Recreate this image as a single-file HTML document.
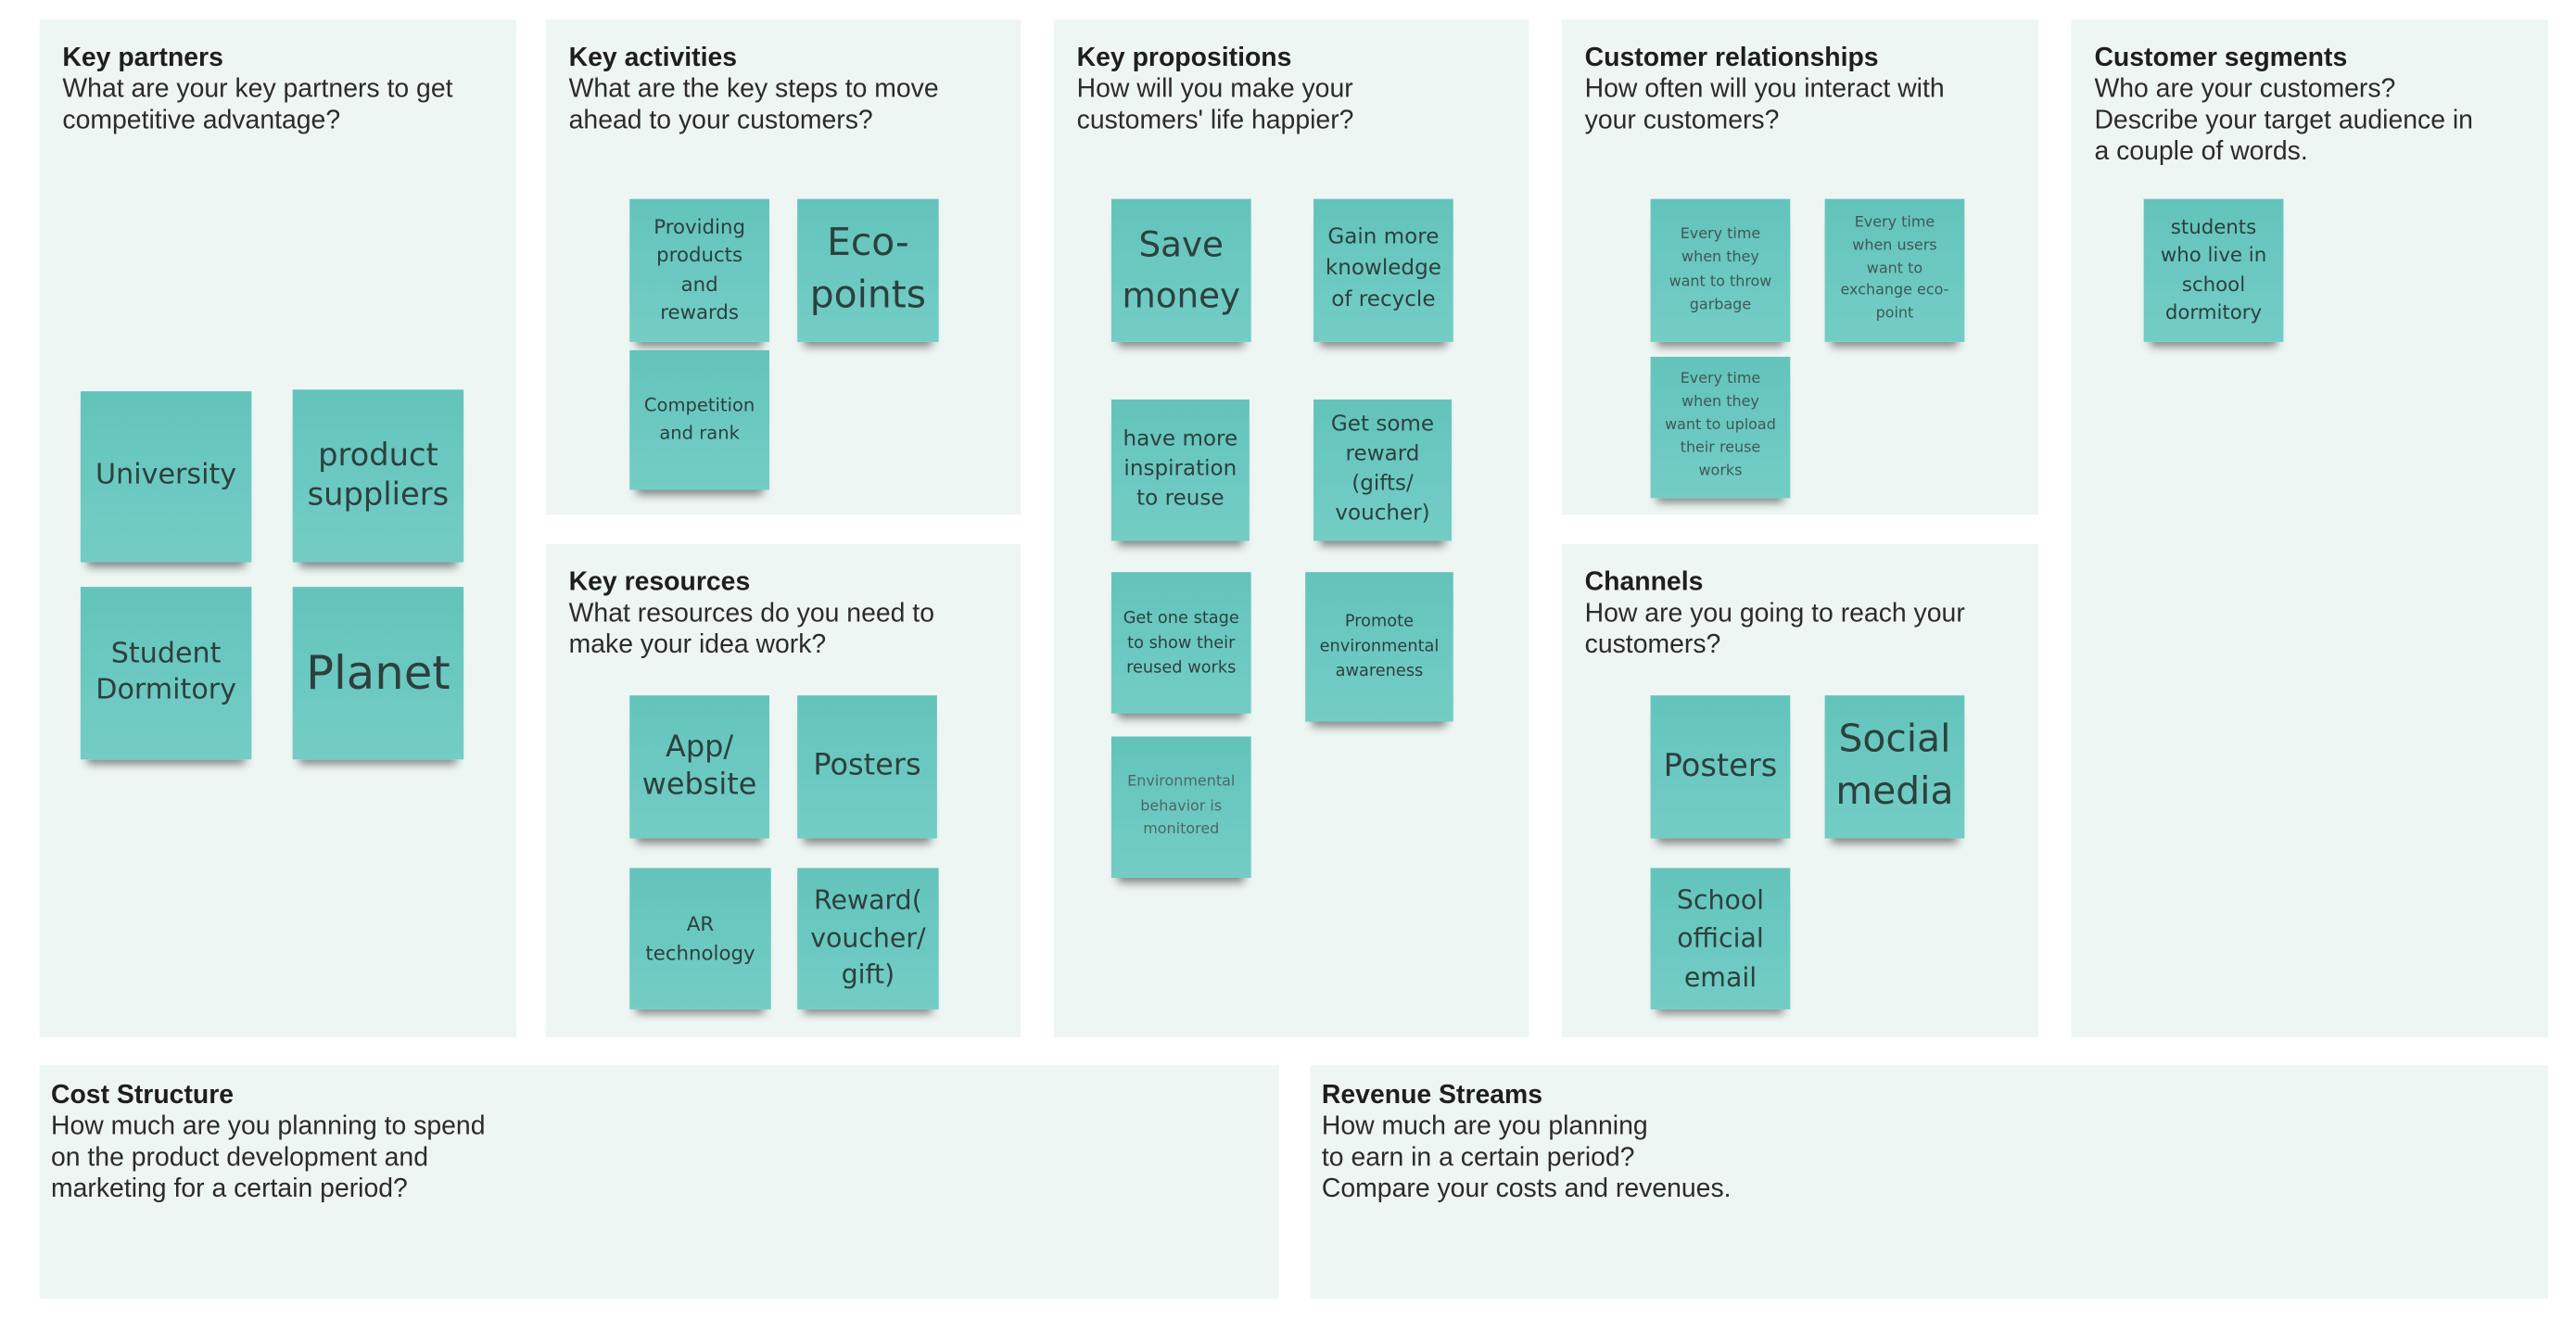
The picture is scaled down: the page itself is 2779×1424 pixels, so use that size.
<!DOCTYPE html>
<html><head><meta charset="utf-8"><style>
html,body{margin:0;padding:0;background:#fff;width:2779px;height:1424px;overflow:hidden}
#w{position:absolute;left:0;top:0;width:1560px;height:800px;transform:scale(1.7735);transform-origin:0 0;font-family:"Liberation Sans",sans-serif}
.p{position:absolute;background:#eef6f4}
.p .t{position:absolute;left:14px;top:14px;font-size:16px;line-height:19px;color:#2b2b2b;white-space:nowrap}
.p .t b{color:#1e1e1e}
.s{position:absolute;background:linear-gradient(#63c4bc,#73cdc5);box-shadow:0 7px 5px -4px rgba(0,0,0,0.45);display:flex;align-items:center;justify-content:center;text-align:center;color:#2d403e;font-family:"DejaVu Sans",sans-serif;line-height:1.25}
</style></head><body><div id="w">
<div class="p" style="left:24px;top:12px;width:290px;height:619px"><div class="t"><b>Key partners</b><br>What are your key partners to get<br>competitive advantage?</div></div>
<div class="p" style="left:332px;top:12px;width:289px;height:301px"><div class="t"><b>Key activities</b><br>What are the key steps to move<br>ahead to your customers?</div></div>
<div class="p" style="left:332px;top:331px;width:289px;height:300px"><div class="t"><b>Key resources</b><br>What resources do you need to<br>make your idea work?</div></div>
<div class="p" style="left:641px;top:12px;width:289px;height:619px"><div class="t"><b>Key propositions</b><br>How will you make your<br>customers' life happier?</div></div>
<div class="p" style="left:950px;top:12px;width:290px;height:301px"><div class="t"><b>Customer relationships</b><br>How often will you interact with<br>your customers?</div></div>
<div class="p" style="left:950px;top:331px;width:290px;height:300px"><div class="t"><b>Channels</b><br>How are you going to reach your<br>customers?</div></div>
<div class="p" style="left:1260px;top:12px;width:290px;height:619px"><div class="t"><b>Customer segments</b><br>Who are your customers?<br>Describe your target audience in<br>a couple of words.</div></div>
<div class="p" style="left:24px;top:648px;width:754px;height:142px"><div class="t" style="left:7px;top:9px"><b>Cost Structure</b><br>How much are you planning to spend<br>on the product development and<br>marketing for a certain period?</div></div>
<div class="p" style="left:797px;top:648px;width:753px;height:142px"><div class="t" style="left:7px;top:9px"><b>Revenue Streams</b><br>How much are you planning<br>to earn in a certain period?<br>Compare your costs and revenues.</div></div>

<div class="s" style="left:49px;top:238px;width:104px;height:104px;font-size:17px">University</div>
<div class="s" style="left:178px;top:237px;width:104px;height:105px;font-size:19px">product<br>suppliers</div>
<div class="s" style="left:49px;top:357px;width:104px;height:105px;font-size:17px">Student<br>Dormitory</div>
<div class="s" style="left:178px;top:357px;width:104px;height:105px;font-size:28px">Planet</div>

<div class="s" style="left:383px;top:121px;width:85px;height:87px;font-size:12px;line-height:1.45">Providing<br>products<br>and<br>rewards</div>
<div class="s" style="left:485px;top:121px;width:86px;height:87px;font-size:23px;line-height:1.35">Eco-<br>points</div>
<div class="s" style="left:383px;top:213px;width:85px;height:85px;font-size:11px;line-height:1.5">Competition<br>and rank</div>

<div class="s" style="left:383px;top:423px;width:85px;height:87px;font-size:18px">App/<br>website</div>
<div class="s" style="left:485px;top:423px;width:85px;height:87px;font-size:18px">Posters</div>
<div class="s" style="left:383px;top:528px;width:86px;height:86px;font-size:12px;line-height:1.5">AR<br>technology</div>
<div class="s" style="left:485px;top:528px;width:86px;height:86px;font-size:16px;line-height:1.4">Reward(<br>voucher/<br>gift)</div>

<div class="s" style="left:676px;top:121px;width:85px;height:87px;font-size:21px;line-height:1.45">Save<br>money</div>
<div class="s" style="left:799px;top:121px;width:85px;height:87px;font-size:13px;line-height:1.45">Gain more<br>knowledge<br>of recycle</div>
<div class="s" style="left:676px;top:243px;width:84px;height:86px;font-size:13px;line-height:1.4">have more<br>inspiration<br>to reuse</div>
<div class="s" style="left:799px;top:243px;width:84px;height:86px;font-size:13px;line-height:1.4">Get some<br>reward<br>(gifts/<br>voucher)</div>
<div class="s" style="left:676px;top:348px;width:85px;height:86px;font-size:10px;line-height:1.5">Get one stage<br>to show their<br>reused works</div>
<div class="s" style="left:794px;top:348px;width:90px;height:91px;font-size:10px;line-height:1.5">Promote<br>environmental<br>awareness</div>
<div class="s" style="left:676px;top:448px;width:85px;height:86px;font-size:9px;line-height:1.6;color:#4d6765">Environmental<br>behavior is<br>monitored</div>

<div class="s" style="left:1004px;top:121px;width:85px;height:87px;font-size:9px;line-height:1.6;color:#3f5856">Every time<br>when they<br>want to throw<br>garbage</div>
<div class="s" style="left:1110px;top:121px;width:85px;height:87px;font-size:9px;line-height:1.55;color:#3f5856">Every time<br>when users<br>want to<br>exchange eco-<br>point</div>
<div class="s" style="left:1004px;top:217px;width:85px;height:86px;font-size:9px;line-height:1.55;color:#3f5856">Every time<br>when they<br>want to upload<br>their reuse<br>works</div>

<div class="s" style="left:1004px;top:423px;width:85px;height:87px;font-size:19px">Posters</div>
<div class="s" style="left:1110px;top:423px;width:85px;height:87px;font-size:23px;line-height:1.35">Social<br>media</div>
<div class="s" style="left:1004px;top:528px;width:85px;height:86px;font-size:16px;line-height:1.45">School<br>official<br>email</div>

<div class="s" style="left:1304px;top:121px;width:85px;height:87px;font-size:12px;line-height:1.45">students<br>who live in<br>school<br>dormitory</div>
</div></body></html>
